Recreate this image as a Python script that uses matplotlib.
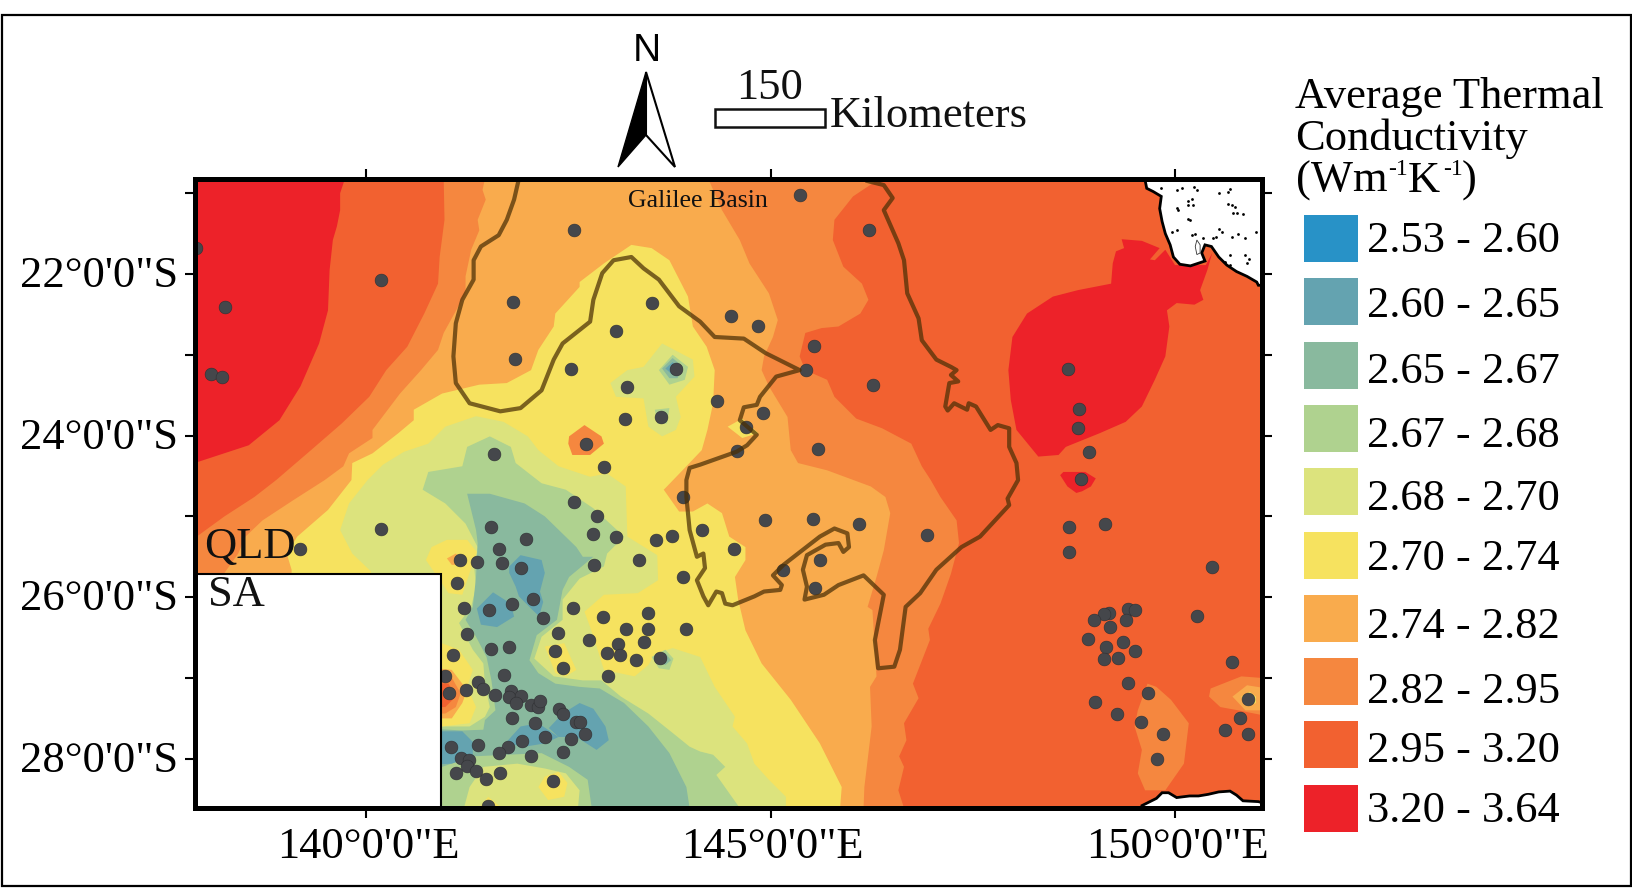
import matplotlib
matplotlib.use("Agg")
import matplotlib.pyplot as plt
from matplotlib.patches import Polygon, Rectangle
from matplotlib.transforms import ScaledTranslation

plt.rcParams['font.family'] = ['Liberation Serif', 'DejaVu Serif']

# class breaks of average thermal conductivity
class_labels = ['2.53 - 2.60', '2.60 - 2.65', '2.65 - 2.67', '2.67 - 2.68', '2.68 - 2.70',
                '2.70 - 2.74', '2.74 - 2.82', '2.82 - 2.95', '2.95 - 3.20', '3.20 - 3.64']
class_colors = ['#2892C7', '#64A3B0', '#89B99E', '#AFD28F', '#DCE37D',
                '#F6E25F', '#F9AB4D', '#F5873F', '#F26130', '#ED2229']

lon_ticks = [140, 145, 150]
lon_labels = ['140°0\'0"E', '145°0\'0"E', '150°0\'0"E']
lat_ticks = [21, 22, 23, 24, 25, 26, 27, 28]
lat_labels = ['', '22°0\'0"S', '', '24°0\'0"S', '', '26°0\'0"S', '', '28°0\'0"S']

# zones as (lon E, lat S), painted from outside to inside
red_nw = [(137.88,20.82),(139.74,20.82),(139.68,21.0),(139.68,21.21),(139.64,21.41),(139.59,21.58),
          (139.55,21.95),(139.53,22.45),(139.42,22.86),(139.19,23.39),(138.93,23.81),(138.55,24.12),(137.88,24.34)]
red_east = [(149.34,21.57),(149.59,21.59),(149.81,21.68),(149.69,21.82),(149.75,21.83),(149.88,21.70),
            (150.0,21.89),(150.38,21.89),(150.46,21.74),(150.40,21.95),(150.31,22.20),(150.35,22.32),
            (150.24,22.38),(150.02,22.36),(149.90,22.45),(149.93,22.65),(149.88,23.02),(149.75,23.31),
            (149.59,23.64),(149.39,23.83),(149.07,23.97),(148.65,24.14),(148.56,24.24),(148.31,24.26),
            (148.04,23.93),(147.97,23.56),(147.94,23.19),(147.99,22.78),(148.17,22.49),(148.49,22.28),
            (148.80,22.20),(149.21,22.12),(149.23,21.87),(149.27,21.72),(149.37,21.68)]
red_small = [(148.58,24.49),(148.62,24.45),(148.89,24.45),(149.02,24.53),(148.96,24.63),(148.85,24.69),
             (148.78,24.71),(148.67,24.63)]

zone_282 = [(140.96,20.82),(140.97,21.33),(140.91,21.79),(140.89,22.12),(140.72,22.49),(140.51,22.90),
            (140.25,23.19),(140.04,23.52),(139.70,23.85),(139.32,24.18),(138.89,24.55),(138.62,24.76),
            (138.25,25.0),(137.88,25.27),(137.88,28.61),(146.65,28.61),(146.58,28.39),(146.65,28.10),
            (146.59,27.97),(146.68,27.77),(146.65,27.56),(146.83,27.25),(146.76,27.07),(146.97,26.53),
            (146.95,26.39),(147.10,26.08),(147.23,25.71),(147.33,25.33),(147.30,25.05),(147.10,24.76),
            (146.98,24.55),(146.87,24.38),(146.74,24.10),(146.38,23.91),(146.06,23.79),(145.79,23.52),
            (145.70,23.31),(145.43,23.19),(145.36,23.02),(145.43,22.73),(145.63,22.67),(145.84,22.65),
            (146.11,22.49),(146.21,22.32),(146.13,22.12),(145.90,21.91),(145.77,21.58),(145.79,21.33),
            (146.02,21.04),(146.35,20.82)]
zone_274 = [(141.47,20.82),(141.44,20.96),(141.48,21.08),(141.38,21.33),(141.40,21.46),(141.30,21.70),
            (141.23,22.03),(141.23,22.24),(140.96,22.73),(140.89,22.94),(140.68,23.19),(140.42,23.48),
            (140.08,23.93),(140.08,24.03),(139.79,24.22),(139.72,24.38),(139.49,24.55),(139.10,24.80),
            (138.72,25.05),(138.51,25.25),(138.42,25.46),(138.25,25.70),(138.25,28.61),(146.15,28.61),
            (146.16,28.35),(146.22,27.85),(146.25,27.60),(146.23,27.11),(146.31,26.98),(146.26,26.16),
            (146.20,26.12),(146.31,25.75),(146.40,25.42),(146.48,24.96),(146.42,24.76),(146.24,24.63),
            (145.70,24.43),(145.34,24.34),(145.25,24.18),(145.21,23.77),(144.98,23.39),(144.89,23.19),
            (144.92,23.02),(145.03,22.78),(145.09,22.57),(144.98,22.24),(144.74,21.87),(144.62,21.58),
            (144.40,21.21),(144.23,20.82)]
zone_270 = [(139.08,28.61),(139.08,25.66),(139.02,25.46),(139.15,25.25),(139.53,24.92),(139.82,24.55),
            (139.83,24.34),(140.08,24.22),(140.40,23.97),(140.59,23.81),(140.59,23.68),(140.94,23.48),
            (141.40,23.37),(141.74,23.35),(142.04,23.19),(142.13,22.94),(142.32,22.65),(142.34,22.49),
            (142.64,22.16),(142.64,22.10),(142.94,21.87),(143.28,21.64),(143.53,21.68),(143.75,21.83),
            (143.98,22.28),(144.04,22.65),(144.21,22.90),(144.31,23.19),(144.29,23.60),(144.22,23.93),
            (144.15,24.18),(143.96,24.38),(143.70,24.65),(143.68,24.67),(143.87,24.94),(144.04,24.94),
            (144.22,24.84),(144.40,24.96),(144.49,25.25),(144.69,25.38),(144.69,25.54),(144.56,25.75),
            (144.60,26.03),(144.69,26.41),(144.89,26.82),(145.25,27.27),(145.61,27.81),(145.88,28.35),
            (145.86,28.61)]
zone_268 = [(140.06,28.61),(140.06,25.68),(139.83,25.46),(139.68,25.17),(139.79,24.84),(140.02,24.55),
            (140.21,24.36),(140.47,24.20),(140.77,24.10),(140.98,23.89),(141.36,23.76),(141.70,23.83),
            (142.00,24.01),(142.13,24.18),(142.38,24.38),(142.77,24.51),(142.98,24.47),(143.21,24.63),
            (143.23,25.25),(143.60,25.48),(143.61,25.79),(143.36,25.95),(142.94,25.97),(142.70,26.18),
            (142.77,26.37),(142.85,26.61),(142.94,26.90),(143.32,26.98),(143.49,26.84),(143.57,26.70),
            (143.79,26.63),(144.13,26.74),(144.31,27.11),(144.56,27.48),(144.53,27.60),(144.71,27.81),
            (144.80,28.06),(144.98,28.26),(145.19,28.47),(145.19,28.61)]
zone_267 = [(140.77,24.45),(141.19,24.38),(141.25,24.14),(141.53,24.01),(141.79,24.14),(141.85,24.34),
            (142.17,24.59),(142.47,24.67),(142.81,24.90),(143.19,25.25),(142.98,25.46),(142.94,25.62),
            (142.64,25.77),(142.43,26.03),(142.43,26.28),(142.17,26.49),(142.08,26.76),(142.32,26.98),
            (142.68,27.03),(142.91,27.03),(143.15,27.23),(143.49,27.44),(143.79,27.68),(144.00,27.85),
            (144.13,27.91),(144.29,27.95),(144.44,28.10),(144.33,28.20),(144.62,28.61),(140.50,28.61),
            (140.50,27.60),(140.93,27.60),(141.28,27.60),(141.47,27.48),(141.53,27.36),(141.47,27.07),
            (141.45,26.82),(141.32,26.65),(141.15,26.32),(141.30,26.12),(141.36,25.87),(141.34,25.66),
            (141.38,25.38),(141.23,25.09),(140.98,24.84),(140.70,24.67)]
zone_265 = [(141.25,24.72),(141.53,24.72),(141.96,24.84),(142.21,25.00),(142.60,25.38),(142.68,25.50),
            (142.81,25.50),(142.51,25.75),(142.43,25.91),(142.36,26.28),(142.11,26.47),(142.02,26.78),
            (142.13,26.94),(142.34,27.07),(142.64,27.11),(142.89,27.13),(143.19,27.31),(143.49,27.60),
            (143.75,27.93),(143.96,28.35),(144.00,28.61),(142.79,28.61),(142.74,28.26),(142.51,28.10),
            (142.17,27.93),(141.32,27.97),(140.94,28.10),(140.68,28.10),(140.68,27.62),(141.19,27.65),
            (141.45,27.64),(141.47,27.52),(141.60,27.40),(141.55,27.03),(141.49,26.74),(141.36,26.49),
            (141.23,26.28),(141.32,26.12),(141.36,25.75),(141.38,25.33),(141.36,25.17)]
patch_260_a = [(141.77,25.62),(141.91,25.48),(142.17,25.54),(142.21,25.70),(142.15,25.93),(142.19,26.06),
               (142.15,26.20),(142.21,26.30),(142.08,26.18),(141.89,25.99),(141.85,25.87),(141.77,25.70)]
patch_260_b = [(141.37,26.14),(141.57,25.94),(141.79,26.08),(141.83,26.24),(141.62,26.37),(141.42,26.34)]
patch_260_c = [(142.26,27.62),(142.43,27.44),(142.64,27.31),(142.81,27.38),(142.96,27.60),(143.00,27.77),
               (142.85,27.89),(142.60,27.73),(142.38,27.73)]
patch_260_d = [(141.72,27.81),(141.91,27.60),(142.13,27.56),(142.38,27.73),(142.21,27.81),(141.96,27.85)]
patch_260_e = [(140.68,27.66),(141.19,27.66),(141.32,27.79),(141.32,27.97),(141.06,28.06),(140.68,28.08)]

south_268 = [(141.21,28.61),(141.28,28.35),(141.45,28.10),(141.87,28.06),(142.21,28.12),(142.47,28.18),
             (142.64,28.39),(142.62,28.61)]
pocket_270_a = [(140.74,25.54),(140.81,25.38),(141.00,25.29),(141.25,25.29),(141.37,25.44),(141.28,25.70),
                (141.19,25.97),(141.02,25.95),(140.94,25.83),(140.85,25.70)]
pocket_274_a = [(141.00,25.52),(141.11,25.46),(141.19,25.54),(141.17,25.60),(141.06,25.60)]
pocket_270_b = [(140.68,26.57),(140.94,26.57),(141.15,26.65),(141.32,26.90),(141.25,27.11),(141.36,27.36),
                (141.28,27.56),(140.94,27.60),(140.68,27.60)]
pocket_274_b = [(140.68,26.86),(141.06,26.90),(141.25,27.15),(141.19,27.31),(141.06,27.50),(140.68,27.50)]
pocket_282_b = [(140.68,26.96),(141.04,26.96),(141.17,27.19),(141.11,27.36),(140.98,27.44),(140.68,27.44)]
pocket_295_b = [(140.68,27.05),(141.02,27.07),(141.11,27.23),(140.98,27.36),(140.68,27.36)]
pocket_270_c = [(142.21,26.61),(142.45,26.57),(142.60,26.90),(142.47,26.98),(142.34,26.94)]
pocket_270_d = [(142.13,28.35),(142.21,28.22),(142.38,28.16),(142.49,28.30),(142.45,28.47),(142.25,28.51)]
pocket_270_e = [(141.40,28.61),(141.51,28.47),(141.68,28.61)]
pocket_282_c = [(142.51,24.01),(142.70,23.87),(142.91,24.01),(142.94,24.10),(142.77,24.24),(142.55,24.24),(142.50,24.10)]
pocket_270_f = [(144.47,23.89),(144.65,23.79),(144.85,23.97),(144.65,24.03)]

north_268 = [(143.02,23.35),(143.23,23.19),(143.43,23.15),(143.66,22.86),(144.04,23.06),(144.06,23.27),
             (143.83,23.52),(143.89,23.77),(143.83,23.93),(143.66,24.01),(143.49,23.89),(143.43,23.54),(143.09,23.52)]
north_267 = [(143.62,23.19),(143.79,23.00),(143.98,23.15),(143.94,23.31),(143.75,23.37)]
north_265 = [(143.66,23.17),(143.79,23.04),(143.92,23.15),(143.85,23.29),(143.75,23.29)]
north_260 = [(143.70,23.17),(143.79,23.09),(143.87,23.19),(143.79,23.25)]
north_267_b = [(143.57,23.68),(143.75,23.66),(143.72,23.85),(143.60,23.85)]
spot_267 = [(143.53,26.74),(143.70,26.65),(143.80,26.76),(143.75,26.90),(143.62,26.88)]
spot_265 = [(143.57,26.76),(143.70,26.69),(143.77,26.78),(143.70,26.84)]

se_282 = [(149.54,27.40),(149.66,27.07),(149.77,27.11),(149.95,27.27),(150.17,27.56),(150.11,28.06),
          (149.88,28.39),(149.63,28.39),(149.54,28.18),(149.59,27.89),(149.50,27.60)]
east_282 = [(150.44,27.13),(150.82,26.98),(151.08,27.00),(151.08,27.46),(150.78,27.40),(150.56,27.36),(150.42,27.23)]
east_274 = [(150.71,27.23),(150.89,27.09),(151.08,27.12),(151.08,27.40),(150.87,27.40)]
east_270 = [(150.82,27.23),(150.92,27.17),(151.00,27.23),(151.00,27.31),(150.89,27.35)]

# painted in this order, colour is the index into class_colors
zones = [(red_nw, 9), (red_east, 9), (red_small, 9), (zone_282, 7), (zone_274, 6), (zone_270, 5),
         (zone_268, 4), (zone_267, 3), (zone_265, 2), (patch_260_a, 1), (patch_260_b, 1), (patch_260_c, 1),
         (patch_260_d, 1), (patch_260_e, 1), (south_268, 4), (pocket_270_a, 5), (pocket_274_a, 6),
         (pocket_270_b, 5), (pocket_274_b, 6), (pocket_282_b, 7), (pocket_295_b, 8), (pocket_270_c, 5),
         (pocket_270_d, 5), (pocket_270_e, 5), (pocket_282_c, 7), (pocket_270_f, 5), (north_268, 4),
         (north_267, 3), (north_265, 2), (north_260, 1), (north_267_b, 3), (spot_267, 3), (spot_265, 2),
         (se_282, 7), (east_282, 7), (east_274, 6), (east_270, 5)]

land_ne = [(149.63,20.80),(149.63,20.84),(149.65,20.94),(149.73,20.98),(149.83,21.04),(149.81,21.19),(149.84,21.35),
           (149.88,21.50),(149.94,21.64),(149.98,21.79),(150.06,21.88),(150.19,21.90),(150.31,21.86),(150.37,21.84),
           (150.33,21.74),(150.37,21.64),(150.45,21.66),(150.54,21.79),(150.64,21.89),(150.76,21.97),(150.89,22.03),
           (151.01,22.10),(151.03,22.14),(151.10,22.14),(151.10,20.80)]
land_se = [(149.59,28.63),(149.59,28.58),(149.69,28.53),(149.77,28.49),(149.84,28.42),(149.92,28.42),(150.02,28.48),
           (150.18,28.46),(150.29,28.46),(150.41,28.44),(150.54,28.41),(150.68,28.40),(150.76,28.45),(150.84,28.52),
           (151.03,28.53),(151.10,28.55),(151.10,28.63)]
lake_ne = [(150.27,21.58),(150.31,21.64),(150.31,21.74),(150.27,21.76),(150.25,21.66)]
island_lon = [150.08,150.02,150.21,150.16,150.16,150.22,150.02,150.04,150.19,150.16,150.54,150.66,150.68,150.66,
              150.70,150.74,150.72,150.84,150.76,150.54,150.58,150.51,150.02,149.96,150.21,150.25,150.34,150.70,
              150.78,150.87,151.00,150.68,150.87,150.91,150.89,150.62,150.68,150.27,150.23,149.83,150.47]
island_lat = [20.93,20.96,21.07,21.10,21.15,21.15,21.18,21.21,21.33,21.32,21.00,20.98,20.95,21.14,
              21.15,21.17,21.24,21.26,21.25,21.44,21.48,21.54,21.46,21.48,21.52,21.50,21.55,21.54,
              21.51,21.55,21.48,21.76,21.77,21.81,21.86,21.85,21.89,20.96,20.92,20.94,21.56]
sa_box = [(137.88,25.71),(140.93,25.71),(140.93,28.61),(137.88,28.61)]

basin_line = [(141.89,20.82),(141.83,21.08),(141.74,21.33),(141.64,21.52),(141.42,21.66),(141.33,21.83),
              (141.33,22.07),(141.19,22.32),(141.11,22.61),(141.08,23.02),(141.11,23.35),(141.28,23.60),
              (141.66,23.70),(141.91,23.66),(142.17,23.44),(142.32,23.06),(142.43,22.86),(142.77,22.59),
              (142.81,22.32),(142.92,21.99),(143.06,21.83),(143.28,21.79),(143.43,21.93),(143.62,22.07),
              (143.87,22.40),(144.13,22.59),(144.31,22.78),(144.67,22.80),(144.94,22.98),(145.36,23.19),
              (145.07,23.27),(144.87,23.52),(144.83,23.62),(144.67,23.65),(144.62,23.81),(144.83,23.99),
              (144.71,24.12),(144.58,24.20),(144.13,24.36),(144.00,24.40),(143.96,24.55),(143.96,24.76),
              (144.00,25.17),(144.09,25.50),(144.17,25.46),(144.19,25.64),(144.09,25.79),(144.17,25.99),
              (144.23,26.10),(144.33,25.93),(144.40,25.95),(144.44,26.08),(144.53,26.10),(144.80,25.99),
              (144.92,25.93),(145.12,25.91),(145.14,25.85),(145.03,25.73),(145.16,25.60),(145.61,25.25),
              (145.79,25.15),(145.95,25.21),(145.97,25.38),(145.90,25.44),(145.84,25.33),(145.68,25.35),
              (145.45,25.48),(145.40,25.66),(145.45,25.87),(145.42,26.03),(145.66,25.97),(145.84,25.85),
              (146.15,25.73),(146.40,25.97),(146.29,26.53),(146.33,26.88),(146.53,26.86),(146.60,26.65),
              (146.67,26.12),(146.85,25.95),(147.05,25.66),(147.36,25.38),(147.59,25.25),(147.95,24.86),
              (147.93,24.78),(148.06,24.55),(148.04,24.34),(147.95,24.14),(147.95,23.91),(147.81,23.87),
              (147.72,23.93),(147.54,23.64),(147.45,23.60),(147.43,23.68),(147.27,23.60),(147.19,23.69),
              (147.16,23.64),(147.21,23.35),(147.32,23.33),(147.23,23.25),(147.30,23.19),(147.23,23.15),
              (147.05,23.06),(146.87,22.82),(146.83,22.55),(146.69,22.24),(146.65,21.83),(146.58,21.62),
              (146.40,21.21),(146.51,21.06),(146.40,20.90),(146.20,20.85)]

well_lon = [142.57,140.18,138.26,141.82,143.54,143.09,141.84,138.08,138.22,142.53,143.83,143.22,144.34,143.64,143.20,
            142.72,141.58,142.94,137.90,145.36,146.22,144.51,144.84,145.54,145.44,146.27,144.91,144.70,144.58,145.59,
            148.68,148.81,148.80,148.94,148.84,144.15,144.93,145.53,146.09,146.93,144.55,145.15,145.61,145.55,148.69,
            149.14,148.69,150.46,150.27,149.18,149.12,149.00,149.19,149.42,149.50,149.40,149.36,148.93,149.15,149.50,
            149.12,149.29,149.42,149.66,149.01,149.28,149.58,149.85,149.78,150.70,150.90,150.80,150.62,150.90,140.19,
            139.19,142.57,142.86,141.54,142.81,143.09,141.98,143.58,143.78,143.92,141.64,141.16,141.37,141.68,141.92,
            142.82,143.37,141.12,143.92,141.21,141.52,141.80,142.06,142.56,142.19,142.93,143.48,143.21,143.49,143.95,
            141.25,142.37,142.76,143.12,143.43,142.34,141.55,141.77,142.98,143.14,143.34,143.63,141.08,142.44,142.99,
            141.71,140.98,141.02,141.24,141.38,141.45,141.60,141.79,141.77,141.91,141.85,142.04,142.13,142.15,142.38,
            142.44,141.80,142.09,142.59,142.65,142.71,142.21,142.53,141.93,141.75,141.64,142.43,142.04,141.38,141.05,
            141.18,141.27,141.25,141.36,141.11,141.48,141.66,142.31,141.51]
well_lat = [21.46,22.08,22.41,22.35,22.36,22.71,23.05,23.24,23.28,23.18,23.18,23.40,23.57,23.77,23.80,
            24.11,24.23,24.39,21.68,21.02,21.46,22.52,22.64,22.89,23.19,23.37,23.72,23.90,24.19,24.17,
            23.18,23.67,23.91,24.20,24.54,25.17,25.04,25.03,25.09,25.23,25.40,25.66,25.54,25.89,25.13,
            25.09,25.44,25.63,26.23,26.19,26.21,26.28,26.37,26.15,26.16,26.28,26.55,26.52,26.62,26.67,
            26.76,26.75,27.06,27.19,27.30,27.45,27.55,27.69,28.00,26.80,27.26,27.49,27.64,27.69,25.16,
            25.40,24.82,25.00,25.13,25.22,25.26,25.28,25.29,25.24,24.76,25.40,25.54,25.56,25.58,25.64,
            25.60,25.54,25.83,25.75,26.13,26.16,26.08,26.02,26.13,26.26,26.25,26.20,26.39,26.39,26.39,
            26.45,26.44,26.53,26.58,26.55,26.66,26.64,26.62,26.69,26.72,26.78,26.75,26.71,26.88,26.98,
            26.96,26.97,27.18,27.15,27.05,27.14,27.21,27.16,27.23,27.22,27.31,27.33,27.36,27.29,27.38,
            27.44,27.50,27.56,27.54,27.55,27.69,27.73,27.76,27.78,27.85,27.93,27.91,27.96,27.83,27.86,
            27.99,28.01,28.09,28.15,28.17,28.25,28.18,28.27,28.58]


fig = plt.figure(figsize=(16.32, 8.88), dpi=100, facecolor='white')
ax = fig.add_axes([195/1632, 1-808/888, 1067/1632, 629.3/888])
ax.set_xlim(137.886, 151.075)
ax.set_ylim(28.609, 20.821)
ax.set_facecolor(class_colors[8])

for pts, c in zones:
    ax.add_patch(Polygon(pts, closed=True, facecolor=class_colors[c], edgecolor='none', zorder=2))

ax.add_patch(Polygon(land_ne, closed=True, facecolor='white', edgecolor='black', linewidth=2, zorder=3))
ax.add_patch(Polygon(land_se, closed=True, facecolor='white', edgecolor='black', linewidth=2, zorder=3))
ax.add_patch(Polygon(lake_ne, closed=True, facecolor='white', edgecolor='#333333', linewidth=0.6, zorder=3))
ax.scatter(island_lon, island_lat, s=4, c='black', linewidths=0, zorder=3)

ax.scatter(well_lon, well_lat, s=85, c='#45474B', edgecolors='#2f3033', linewidths=0.4, zorder=4)

bx, by = zip(*basin_line)
ax.plot(bx, by, color='#4a2f05', alpha=0.72, linewidth=3, solid_joinstyle='round', zorder=5)

ax.add_patch(Polygon(sa_box, closed=True, facecolor='white', edgecolor='black', linewidth=1.5, zorder=6))

ax.set_xticks(lon_ticks)
ax.set_xticklabels(lon_labels)
ax.set_yticks(lat_ticks)
ax.set_yticklabels(lat_labels)
ax.tick_params(axis='both', direction='out', length=7, width=1.5, top=True, right=True, labelsize=32)
ax.tick_params(axis='x', pad=6)
ax.tick_params(axis='y', pad=5)
for s in ax.spines.values():
    s.set_linewidth(3.6)
    s.set_zorder(10)

# small nudges of the tick labels, in points
for lab in ax.get_xticklabels():
    lab.set_transform(lab.get_transform() + ScaledTranslation(1.4/72, -0.7/72, fig.dpi_scale_trans))
for lab in ax.get_yticklabels():
    lab.set_transform(lab.get_transform() + ScaledTranslation(0, 1.6/72, fig.dpi_scale_trans))

# everything around the map, in figure pixels
over = fig.add_axes([0, 0, 1, 1], zorder=20)
over.set_xlim(0, 1632)
over.set_ylim(888, 0)
over.axis('off')
over.patch.set_alpha(0)

over.add_patch(Rectangle((1.5, 15), 1629, 871, fill=False, edgecolor='black', linewidth=1.6))

over.text(204, 558, 'QLD', fontsize=32, color='#111111', va='baseline')
over.text(208, 606, 'SA', fontsize=32, color='#111111', va='baseline')
over.text(628, 207, 'Galilee Basin', fontsize=18.6, color='#111111', va='baseline')

over.text(647, 51, 'N', fontsize=28, family='Liberation Sans', ha='center', va='center')
over.add_patch(Polygon([(646, 72), (618, 167), (646, 135)], closed=True, facecolor='black', edgecolor='black', linewidth=1))
over.add_patch(Polygon([(646, 72), (675, 167), (646, 135)], closed=True, facecolor='white', edgecolor='black', linewidth=1.5))

over.add_patch(Rectangle((714.5, 109.5), 110, 18, facecolor='white', edgecolor='#111111', linewidth=1.8))
over.text(770, 88, '150', fontsize=32, color='#111111', ha='center', va='center')
over.text(830, 127, 'Kilometers', fontsize=32, color='#111111', va='baseline')

over.text(1295, 97, 'Average Thermal', fontsize=32, va='center')
over.text(1295, 139, 'Conductivity', fontsize=32, va='center')
over.text(1296, 192, '(Wm', fontsize=32, va='baseline')
over.text(1388, 175, '-1', fontsize=17, va='baseline')
over.text(1408, 192, 'K', fontsize=32, va='baseline')
over.text(1443, 175, '-1', fontsize=17, va='baseline')
over.text(1462, 192, ')', fontsize=32, va='baseline')

legend_tops = [215, 278, 342, 405, 468, 532, 595, 658, 721, 785]
legend_text_y = [241, 306, 372, 436, 499, 559, 627, 692, 751, 811]
for top, ty, col, lab in zip(legend_tops, legend_text_y, class_colors, class_labels):
    over.add_patch(Rectangle((1304, top), 54, 47, facecolor=col, edgecolor='none'))
    over.text(1367, ty, lab, fontsize=32, va='center')

plt.savefig('out.png', dpi=100)
